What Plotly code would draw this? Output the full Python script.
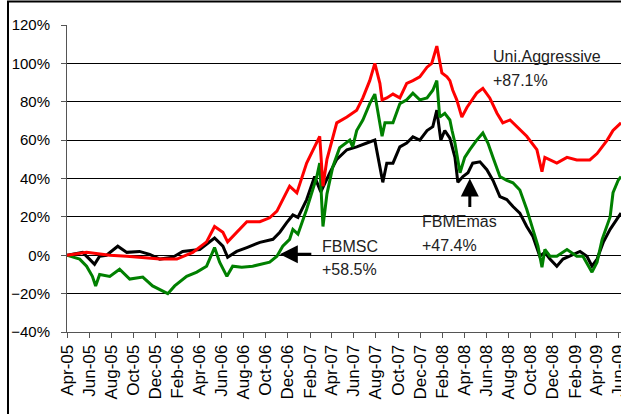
import plotly.graph_objects as go

# ---- data (cumulative return, %) ----
uni_dates = ["2005-04-01","2005-05-25","2005-07-28","2005-09-13","2005-12-13","2006-01-29","2006-03-14",
             "2006-04-21","2006-05-13","2006-06-05","2006-06-18","2006-07-13","2006-08-10","2006-09-15",
             "2006-10-12","2006-11-01","2006-12-06","2006-12-26","2007-01-22","2007-02-27","2007-03-08",
             "2007-03-19","2007-03-27","2007-04-15","2007-05-13","2007-06-09","2007-06-26","2007-07-15",
             "2007-07-29","2007-08-12","2007-08-18","2007-08-31","2007-09-17","2007-10-06","2007-10-25",
             "2007-11-11","2007-11-30","2007-12-20","2008-01-02","2008-01-16","2008-01-30","2008-02-13",
             "2008-02-21","2008-02-29","2008-03-11","2008-03-20","2008-03-25","2008-04-08","2008-05-05",
             "2008-05-22","2008-06-10","2008-06-30","2008-07-16","2008-08-05","2008-08-24","2008-09-20",
             "2008-10-18","2008-11-01","2008-11-09","2008-12-12","2009-01-09","2009-02-05","2009-03-13",
             "2009-04-02","2009-04-30","2009-05-16","2009-06-07"]
uni_values = [0, 1.5, 0, -0.5, -2, -2, 1.5,
              7, 15, 12, 7, 12, 17.5, 17.5,
              19.5, 23, 36, 32.5, 48, 62, 36,
              50, 56, 69, 72, 75.6, 82, 91,
              100, 89.6, 81, 82, 84, 82, 89.6,
              91, 93, 98, 100, 109, 95, 93,
              91, 86, 81, 75.6, 72, 77, 84.5,
              87, 82, 74, 69, 70.5, 67, 62,
              55, 43.5, 51, 48, 51, 49.7, 49.7,
              53, 60, 65, 69]

emas_dates = ["2005-04-01","2005-05-14","2005-06-02","2005-06-16","2005-06-30","2005-07-19","2005-08-19",
              "2005-09-13","2005-10-18","2005-11-15","2005-12-13","2006-01-18","2006-02-14","2006-04-02",
              "2006-05-13","2006-06-05","2006-06-18","2006-07-13","2006-08-10","2006-09-15","2006-10-21",
              "2006-11-09","2006-11-28","2006-12-15","2006-12-29","2007-01-22","2007-02-13","2007-03-02",
              "2007-03-27","2007-04-15","2007-05-13","2007-06-09","2007-07-07","2007-07-29","2007-08-07",
              "2007-08-20","2007-08-31","2007-09-17","2007-10-06","2007-10-25","2007-11-11","2007-11-30",
              "2007-12-20","2008-01-05","2008-01-16","2008-01-27","2008-02-07","2008-02-21","2008-03-06",
              "2008-03-14","2008-03-28","2008-04-11","2008-04-24","2008-05-14","2008-06-02","2008-06-19",
              "2008-07-08","2008-07-27","2008-08-13","2008-09-01","2008-09-20","2008-10-07","2008-10-26",
              "2008-11-09","2008-11-23","2008-12-12","2008-12-29","2009-01-17","2009-02-14","2009-03-05",
              "2009-03-19","2009-04-02","2009-04-19","2009-05-08","2009-05-27","2009-06-07"]
emas_values = [0, 1.5, -2, -4.7, -0.5, 0, 4.7,
               1.5, 2, 0.5, -2, -1, 2, 3,
               9, 4.7, -1, 2, 4, 6.7, 8.3,
               12, 17, 21, 19.7, 29, 41, 33,
               43, 50, 55, 56.5, 58.5, 60, 51,
               38, 48, 48, 56.5, 58.5, 61.7, 60,
               65, 67, 75.6, 60, 65, 61, 51,
               38, 41, 43, 48, 48.7, 44.6, 39,
               30.6, 29, 25.4, 22, 15, 9.8, -0.5,
               1.5, -2, -5.7, -2, -0.5, 2, -0.5,
               -5.7, -2, 6.7, 13.5, 18.7, 22]

msc_dates = ["2005-04-01","2005-05-06","2005-05-25","2005-06-10","2005-06-19","2005-06-30","2005-07-28",
             "2005-08-24","2005-09-21","2005-10-27","2005-11-23","2005-12-21","2006-01-04","2006-01-23",
             "2006-02-25","2006-03-25","2006-04-21","2006-05-13","2006-05-27","2006-06-16","2006-07-02",
             "2006-07-27","2006-08-26","2006-10-12","2006-11-01","2006-11-17","2006-12-06","2006-12-15",
             "2006-12-29","2007-01-22","2007-02-19","2007-02-27","2007-03-08","2007-03-19","2007-04-04",
             "2007-04-23","2007-05-21","2007-05-29","2007-06-09","2007-06-26","2007-07-15","2007-07-29",
             "2007-08-07","2007-08-18","2007-08-26","2007-09-17","2007-10-06","2007-10-25","2007-11-11",
             "2007-11-30","2007-12-20","2008-01-05","2008-01-16","2008-01-24","2008-02-07","2008-02-21",
             "2008-02-27","2008-03-06","2008-03-20","2008-04-02","2008-04-16","2008-05-05","2008-05-22",
             "2008-06-05","2008-06-19","2008-07-08","2008-07-27","2008-08-13","2008-09-01","2008-09-20",
             "2008-10-07","2008-10-21","2008-11-01","2008-11-09","2008-11-23","2008-12-12","2009-01-09",
             "2009-02-05","2009-02-22","2009-03-19","2009-04-02","2009-04-16","2009-05-08","2009-05-16",
             "2009-05-30","2009-06-07"]
msc_values = [0, -2, -5.7, -11, -16, -10, -11,
              -7.3, -12.4, -11.4, -16, -18.7, -20, -16,
              -11, -8.8, -5.7, 4, -3.6, -11, -5.7,
              -6.2, -5.7, -3.6, -0.5, 4.7, 8.3, 13.5,
              11, 24, 41, 48, 15, 32, 46,
              56, 60, 56.5, 65, 70.5, 79, 84,
              74, 62, 69, 69, 79, 81, 84.5,
              81, 82, 86, 91, 72, 74, 70.5,
              65, 58.5, 43, 51, 55, 60, 63.7,
              58.5, 51, 41, 39, 37.8, 34, 24,
              13.5, 4.7, -6.2, 3, -0.5, -0.5, 3,
              -0.5, -0.5, -8.8, -3.6, 8.3, 20, 32.6,
              39, 41]

series_names = ["FBMEmas", "FBMSC", "Uni.Aggressive"]
series_colors = ["#000000", "#008000", "#FF0000"]

FONT = "Arial, Liberation Sans, Helvetica, sans-serif"

fig = go.Figure()
for name, d, v, c in zip(series_names,
                         [emas_dates, msc_dates, uni_dates],
                         [emas_values, msc_values, uni_values],
                         series_colors):
    fig.add_trace(go.Scatter(x=d, y=v, mode="lines", name=name,
                             line=dict(color=c, width=3)))

fig.update_layout(
    width=621, height=414,
    margin=dict(l=67, r=0, t=25, b=82, autoexpand=False),
    paper_bgcolor="white", plot_bgcolor="white",
    showlegend=False,
    font=dict(family=FONT, color="#000000"),
)
fig.update_xaxes(
    type="date", range=["2005-04-01", "2009-06-07"],
    tick0="2005-04-01", dtick="M2", tickformat="%b-%y",
    tickangle=-90, tickfont=dict(size=17, family=FONT, color="#000"),
    ticklabeloverflow="allow",
    showgrid=False, showline=True, linecolor="#555555", linewidth=1,
    ticks="outside", ticklen=5, tickcolor="#555555",
    zeroline=False, automargin=False,
)
fig.update_yaxes(
    range=[-40, 120], dtick=20, ticksuffix="%",
    tickfont=dict(size=15, family=FONT, color="#000"),
    showgrid=True, gridcolor="#000000", gridwidth=1,
    showline=True, linecolor="#555555", linewidth=1,
    ticks="outside", ticklen=5, tickcolor="#555555",
    ticklabelstandoff=8,
    zeroline=False, automargin=False,
)

# outer frame of the original chart (partially cropped)
fig.add_shape(type="rect", xref="paper", yref="paper",
              x0=-0.1065, x1=1.3, y0=-0.6, y1=1.0765,
              line=dict(color="#000000", width=2), layer="below")

ann_font = dict(size=16, family=FONT, color="#222222")
texts = [
    ("2008-06-13", 103.6, "Uni.Aggressive"),
    ("2008-06-13", 91.0, "+87.1%"),
    ("2007-02-28", 4.8, "FBMSC"),
    ("2007-02-28", -7.4, "+58.5%"),
    ("2007-12-01", 17.5, "FBMEmas"),
    ("2007-12-01", 5.3, "+47.4%"),
]
for x, y, t in texts:
    fig.add_annotation(x=x, y=y, text=t, showarrow=False,
                       xanchor="left", yanchor="middle", font=ann_font)

# arrows
fig.add_annotation(x="2006-11-09", y=0.5, ax=33, ay=0, text="",
                   showarrow=True, arrowhead=2, arrowsize=1.2,
                   arrowwidth=3, arrowcolor="#000000")
fig.add_annotation(x="2008-04-16", y=40, ax=0, ay=30, text="",
                   showarrow=True, arrowhead=2, arrowsize=1.2,
                   arrowwidth=3, arrowcolor="#000000")

fig.write_html("out.html", config={"displayModeBar": False},
               post_script="document.body.style.margin='0';document.body.style.overflow='hidden';")
